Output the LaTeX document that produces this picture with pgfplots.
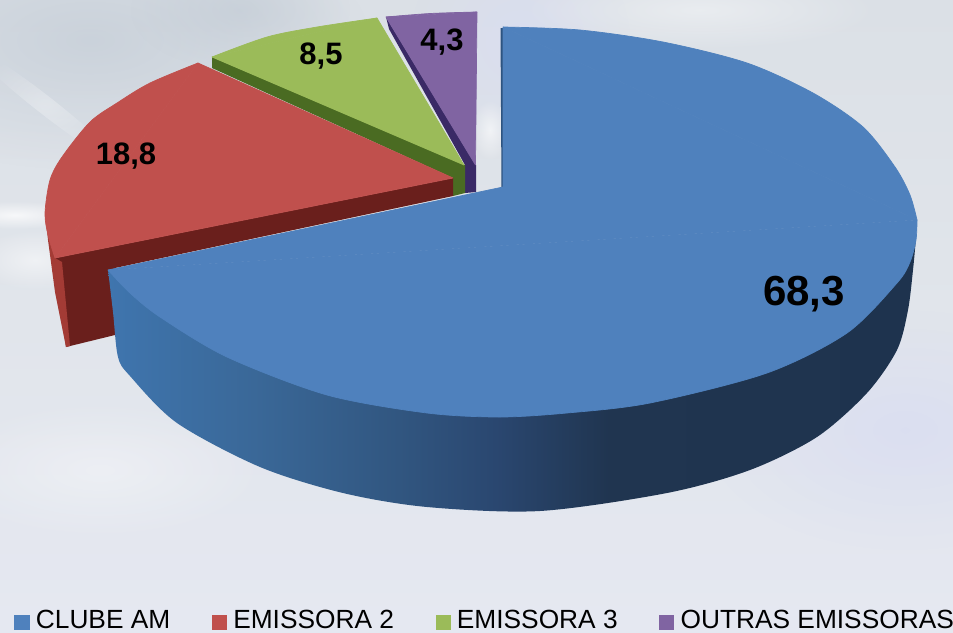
\documentclass[border=0pt]{standalone}
\usepackage{pgfplots}
\pgfplotsset{compat=1.18}
\usetikzlibrary{fadings}
\usepackage{fontspec}
\setmainfont{Liberation Sans}
\tikzfading[name=softblob, inner color=transparent!0, outer color=transparent!100]
\definecolor{cblue}{HTML}{4F81BD}
\definecolor{cred}{HTML}{C0504D}
\definecolor{cgreen}{HTML}{9BBB59}
\definecolor{cpurple}{HTML}{8064A2}
\definecolor{dpurple}{HTML}{3A2A66}
\definecolor{dgreen}{HTML}{4A6B22}
\definecolor{dred}{HTML}{6A1F1C}
\definecolor{mred}{HTML}{A33B35}
\definecolor{nblue}{HTML}{2E5480}
\definecolor{sa}{HTML}{3F75AE}
\definecolor{sb}{HTML}{3A6898}
\definecolor{sc}{HTML}{315680}
\definecolor{sd}{HTML}{2A4770}
\definecolor{se}{HTML}{203550}
\definecolor{sf}{HTML}{1E334E}
\definecolor{bga}{HTML}{E5E8F1}
\definecolor{bgb}{HTML}{E1E5EB}
\definecolor{bgc}{HTML}{DBE0E6}
\definecolor{bgd}{HTML}{BCC6D1}
\definecolor{bge}{HTML}{D9DDF2}
\pgfdeclarehorizontalshading{blueside}{100bp}{color(0bp)=(sa);color(25bp)=(sa);color(34bp)=(sb);color(43bp)=(sc);color(49bp)=(sd);color(56bp)=(se);color(75bp)=(sf);color(100bp)=(sf)}
\pgfdeclareverticalshading{bgshade}{100bp}{color(0bp)=(bga);color(25bp)=(bga);color(50bp)=(bgb);color(75bp)=(bgc);color(100bp)=(bgc)}
\pgfplotsset{face/.style={forget plot,line width=.7pt,line join=round,draw=#1,fill=#1}}
\begin{document}
\begin{tikzpicture}
\path[use as bounding box] (0,0) rectangle (953pt,632pt);
\shade[shading=bgshade] (0,0) rectangle (953pt,632pt);
\begin{scope}
\clip (0,0) rectangle (953pt,632pt);
\begin{scope}[x=1pt,y=-1pt,yshift=632pt]
\fill[bgd,path fading=softblob,opacity=.55] (90,40) ellipse [x radius=280,y radius=130];
\fill[bgd,path fading=softblob,opacity=.45] (240,10) ellipse [x radius=110,y radius=60];
\fill[white,path fading=softblob,opacity=.75] (15,215) ellipse [x radius=70,y radius=14];
\fill[white,path fading=softblob,opacity=.3,rotate around={-38:(45,105)}] (45,105) ellipse [x radius=90,y radius=9];
\fill[white,path fading=softblob,opacity=.5] (35,260) ellipse [x radius=60,y radius=30];
\fill[bge,path fading=softblob,opacity=.8] (905,430) ellipse [x radius=200,y radius=120];
\fill[bge,path fading=softblob,opacity=.8] (520,40) ellipse [x radius=110,y radius=110];
\fill[white,path fading=softblob,opacity=.6] (490,130) ellipse [x radius=18,y radius=30];
\fill[white,path fading=softblob,opacity=.35] (100,470) ellipse [x radius=170,y radius=70];
\fill[white,path fading=softblob,opacity=.4] (700,10) ellipse [x radius=180,y radius=40];
\end{scope}
\end{scope}
\begin{axis}[
  at={(0,0)},anchor=south west,
  scale only axis,width=953pt,height=632pt,
  xmin=0,xmax=953,ymin=0,ymax=632,y dir=reverse,
  axis lines=none,clip=false,
  legend columns=4,
  legend cell align=left,
  legend style={at={(axis cs:14.5,630)},anchor=south west,draw=none,fill=none,inner sep=0pt,outer sep=0pt,
    font=\fontsize{26.3}{26.3}\selectfont,
    /tikz/every even column/.style={column sep=41.5pt},
    nodes={inner sep=0pt,outer sep=0pt}},
  legend image code/.code={\fill[#1] (0pt,-9.5pt) rectangle (14pt,4.5pt);},
  legend plot pos=left,
]
\addlegendimage{cblue}\addlegendentry{\hspace{7pt}CLUBE AM}
\addlegendimage{cred}\addlegendentry{\hspace{7pt}EMISSORA 2}
\addlegendimage{cgreen}\addlegendentry{\hspace{7pt}EMISSORA 3}
\addlegendimage{cpurple}\addlegendentry{\hspace{7pt}OUTRAS EMISSORAS}
% purple slice
\addplot[forget plot,draw=none,fill=dpurple] coordinates {(386,17)(389,29)(465,165)(465,193)(476,192)(476,165)(386,17)};
\addplot[face=cpurple] coordinates {(475.5,165)(386,17)(477,12)(475.5,165)};
\addplot[face=cpurple,smooth] coordinates {(386,17)(430,13.5)(477,12)};
% green slice
\addplot[forget plot,draw=none,fill=dgreen] coordinates {(212,57)(212,68)(453,178)(453,196)(465,193)(465,165)(212,57)};
\addplot[face=cgreen] coordinates {(464,165)(212,57)(377,18)(464,165)};
\addplot[face=cgreen,smooth] coordinates {(212,57)(267,37)(317,27)(377,18)};
% red slice
\addplot[forget plot,draw=none,fill=dred] coordinates {(55,258)(453,178)(453,196)(115,268)(115,335)(66,347)(55,258)};
\addplot[forget plot,draw=none,fill=mred] coordinates {(45,213)(48,240)(55,292)(66,347)(70,346)(62,262)(55,258)(47,225)(45,213)};
\addplot[face=cred] coordinates {(453,178)(55,258)(198,63)(453,178)};
\addplot[face=cred,smooth] coordinates {(55,258)(48,235)(45,213)(50,180)(62,157)(90,122)(117,103)(150,83)(198,63)};
% blue slice
\addplot[forget plot,smooth,draw=none,shade,shading=blueside] coordinates {(108,270)(113,312)(118,357)(130,376)(177,423)(260,467)(343,493)(427,507)(540,511)(667,493)(750,470)(817,437)(867,393)(897,350)(908,310)(913,270)(916,238)};
\addplot[forget plot,draw=none,fill=nblue] coordinates {(500.5,28)(503,28)(503,187)(501.5,188)(500.5,28)};
\addplot[face=cblue] coordinates {(503,187)(503,27)(917,220)(108,270)(503,187)};
\addplot[face=cblue,smooth] coordinates {(503,27)(580,30)(663,42)(747,63)(813,93)(863,127)(895,167)(910,195)(917,220)};
\addplot[face=cblue,smooth] coordinates {(917,220)(916,240)(910,262)(897,283)(847,333)(767,373)(650,403)(567,413)(500,417)(427,413)(327,395)(227,357)(160,317)(130,293)(108,270)};
% value labels
\node[font=\bfseries\fontsize{42}{42}\selectfont] at (axis cs:804,294) {68,3};
\node[font=\bfseries\fontsize{31}{31}\selectfont] at (axis cs:126,156) {18,8};
\node[font=\bfseries\fontsize{31}{31}\selectfont] at (axis cs:321,56) {8,5};
\node[font=\bfseries\fontsize{31}{31}\selectfont] at (axis cs:442,42) {4,3};
\end{axis}
\end{tikzpicture}
\end{document}
